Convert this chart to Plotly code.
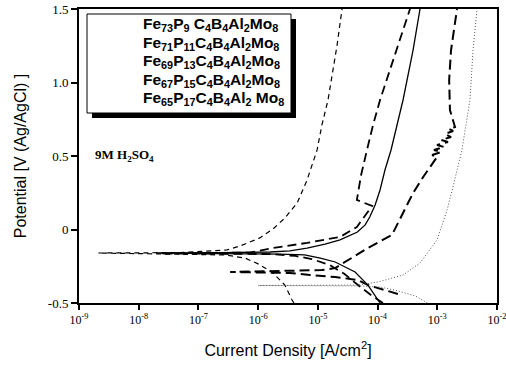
import plotly.graph_objects as go

# ---------------- data ----------------
alloy_names = [
    "Fe<sub>73</sub>P<sub>9</sub> C<sub>4</sub>B<sub>4</sub>Al<sub>2</sub>Mo<sub>8</sub>",
    "Fe<sub>71</sub>P<sub>11</sub>C<sub>4</sub>B<sub>4</sub>Al<sub>2</sub>Mo<sub>8</sub>",
    "Fe<sub>69</sub>P<sub>13</sub>C<sub>4</sub>B<sub>4</sub>Al<sub>2</sub>Mo<sub>8</sub>",
    "Fe<sub>67</sub>P<sub>15</sub>C<sub>4</sub>B<sub>4</sub>Al<sub>2</sub>Mo<sub>8</sub>",
    "Fe<sub>65</sub>P<sub>17</sub>C<sub>4</sub>B<sub>4</sub>Al<sub>2</sub> Mo<sub>8</sub>",
]

# Fe73P9 (solid)
i_fe73 = [1.10e-4, 1.02e-4, 6.9e-5, 4.2e-5, 1.95e-5, 1.10e-5, 6.0e-6, 2.3e-6, 2.3e-7, 2.0e-8,
          2.3e-7, 1.6e-6, 3.4e-6, 6.6e-6, 1.32e-5, 2.35e-5, 4.6e-5, 6.2e-5, 7.4e-5, 9.1e-5,
          1.10e-4, 1.33e-4, 1.68e-4, 2.14e-4, 2.67e-4, 3.93e-4, 5.14e-4]
e_fe73 = [-0.50, -0.48, -0.378, -0.289, -0.221, -0.194, -0.173, -0.167, -0.163, -0.160,
          -0.157, -0.153, -0.146, -0.126, -0.099, -0.071, -0.017, 0.031, 0.085, 0.167,
          0.269, 0.405, 0.541, 0.711, 0.881, 1.221, 1.50]

# Fe71P11 (long dash, heavy)
i_fe71 = [1.23e-4, 8.1e-5, 4.7e-5, 2.8e-5, 1.58e-5, 7.9e-6, 4.2e-6, 1.6e-6, 2.3e-8,
          7.2e-7, 1.78e-6, 6.6e-6, 2.35e-5, 4.5e-5, 6.65e-5, 8.1e-5,
          4.5e-5, 5.3e-5, 6.65e-5, 8.4e-5, 1.10e-4, 1.62e-4, 2.38e-4, 3.49e-4]
e_fe71 = [-0.50, -0.452, -0.378, -0.303, -0.241, -0.201, -0.180, -0.167, -0.163,
          -0.157, -0.126, -0.091, -0.051, 0.017, 0.112, 0.160,
          0.201, 0.371, 0.541, 0.711, 0.881, 1.085, 1.289, 1.50]

# Fe69P13 (long dash, noisy passive region)
i_fe69 = [2.19e-4, 1.50e-4, 6.9e-5, 4.7e-5, 1.95e-5, 7.4e-6, 3.4e-6, 3.4e-7, 3.4e-6,
          1.17e-5, 1.95e-5, 2.85e-5, 6.9e-5, 1.74e-4, 2.67e-4, 3.93e-4, 5.8e-4, 9.9e-4,
          8.2e-4, 1.16e-3, 8.8e-4, 1.30e-3, 9.9e-4, 1.51e-3, 1.16e-3, 1.70e-3, 1.35e-3,
          1.84e-3, 1.57e-3, 1.98e-3, 1.63e-3, 1.58e-3, 1.70e-3, 1.91e-3, 2.14e-3]
e_fe69 = [-0.439, -0.418, -0.378, -0.344, -0.323, -0.310, -0.296, -0.289, -0.282,
          -0.276, -0.262, -0.221, -0.126, -0.037, 0.112, 0.248, 0.357, 0.493,
          0.507, 0.527, 0.541, 0.561, 0.575, 0.595, 0.609, 0.629, 0.650,
          0.670, 0.684, 0.697, 0.813, 1.017, 1.221, 1.357, 1.50]

# Fe67P15 (short dash)
i_fe67 = [3.98e-6, 3.7e-6, 2.8e-6, 1.7e-6, 1.0e-6, 6.0e-7, 2.8e-7, 4.9e-8, 2.1e-9,
          4.9e-8, 8.1e-8, 3.0e-7, 5.0e-7, 1.07e-6, 1.78e-6, 2.8e-6, 4.5e-6, 6.6e-6,
          9.7e-6, 1.17e-5, 1.48e-5, 1.78e-5, 2.1e-5, 2.54e-5]
e_fe67 = [-0.50, -0.48, -0.378, -0.289, -0.234, -0.194, -0.173, -0.167, -0.160,
          -0.157, -0.153, -0.139, -0.112, -0.057, 0.004, 0.078, 0.180, 0.337,
          0.541, 0.711, 0.881, 1.085, 1.255, 1.50]

# Fe65P17 (dotted)
i_fe65 = [6.8e-4, 4.3e-4, 2.19e-4, 1.10e-4, 4.7e-5, 1.0e-6, 4.7e-5, 1.02e-4, 2.67e-4,
          5.14e-4, 9.9e-4, 1.46e-3, 1.78e-3, 2.14e-3, 2.59e-3, 3.02e-3, 3.53e-3,
          3.97e-3, 4.63e-3]
e_fe65 = [-0.50, -0.452, -0.418, -0.391, -0.384, -0.381, -0.378, -0.357, -0.310,
          -0.228, -0.071, 0.133, 0.269, 0.405, 0.541, 0.711, 0.881, 1.221, 1.50]

x_tickvals = [1e-9, 1e-8, 1e-7, 1e-6, 1e-5, 1e-4, 1e-3, 1e-2]
x_ticktext = ["10<sup>-9</sup>", "10<sup>-8</sup>", "10<sup>-7</sup>", "10<sup>-6</sup>",
              "10<sup>-5</sup>", "10<sup>-4</sup>", "10<sup>-3</sup>", "10<sup>-2</sup>"]
y_tickvals = [-0.5, 0, 0.5, 1.0, 1.5]
y_ticktext = ["-0.5", "0", "0.5", "1.0", "1.5"]

solution_label = "9M H<sub>2</sub>SO<sub>4</sub>"

# ---------------- figure ----------------
W, H = 506, 374
# plot area in screen pixels: x 79..497, y 9..303
L, R, T, B = 79, W - 497, 9, H - 303
PW, PH = W - L - R, H - T - B


def px(xs):
    return (xs - L) / PW


def py(ys):
    return (T + PH - ys) / PH


series = [
    (i_fe73, e_fe73, dict(color="black", width=1.3, dash="solid")),
    (i_fe71, e_fe71, dict(color="black", width=1.8, dash="9px,5px")),
    (i_fe69, e_fe69, dict(color="black", width=2.0, dash="10px,5px")),
    (i_fe67, e_fe67, dict(color="black", width=1.2, dash="5px,4px")),
    (i_fe65, e_fe65, dict(color="#555555", width=1.0, dash="1px,2px")),
]

fig = go.Figure()
for name, (xs, ys, ln) in zip(alloy_names, series):
    fig.add_trace(go.Scatter(x=xs, y=ys, mode="lines", name=name, line=ln,
                             showlegend=False, xaxis="x", yaxis="y"))

serif = "Liberation Serif, Times New Roman, serif"
sans = "Liberation Sans, Arial, sans-serif"

fig.update_layout(
    width=W, height=H,
    margin=dict(l=L, r=R, t=T, b=B),
    paper_bgcolor="white", plot_bgcolor="white",
    hovermode=False,
    xaxis=dict(type="log", range=[-9, -2], tickvals=x_tickvals, ticktext=x_ticktext,
               ticks="outside", ticklen=5, tickwidth=1.5, tickcolor="black",
               ticklabeloverflow="allow",
               showline=True, linewidth=2, linecolor="black", mirror=True,
               showgrid=False, zeroline=False, automargin=False,
               tickfont=dict(family=serif, size=12, color="black"),
               title=dict(text="Current Density [A/cm<sup>2</sup>]", standoff=18,
                          font=dict(family=sans, size=16, color="black"))),
    yaxis=dict(range=[-0.5, 1.5], tickvals=y_tickvals, ticktext=y_ticktext,
               ticks="outside", ticklen=6, tickwidth=1.5, tickcolor="black",
               ticklabeloverflow="allow",
               showline=True, linewidth=2, linecolor="black", mirror=True,
               showgrid=False, zeroline=False, automargin=False,
               tickfont=dict(family=serif, size=13, color="black"),
               title=dict(text="Potential [V (Ag/AgCl) ]", standoff=17,
                          font=dict(family=sans, size=16, color="black"))),
    xaxis2=dict(type="log", range=[-9, -2], overlaying="x", anchor="y", side="bottom",
                tickvals=x_tickvals, ticks="inside", ticklen=5, tickwidth=1.5,
                tickcolor="black", showticklabels=False, showgrid=False,
                zeroline=False, showline=False, automargin=False),
    yaxis2=dict(range=[-0.5, 1.5], overlaying="y", anchor="x", side="left",
                tickvals=y_tickvals, ticks="inside", ticklen=5, tickwidth=1.5,
                tickcolor="black", showticklabels=False, showgrid=False,
                zeroline=False, showline=False, automargin=False),
)

# legend box with drop shadow (screen pixel positions)
box_l, box_r, box_t, box_b = 87, 291, 14, 113
shadow = 5
fig.add_shape(type="rect", xref="paper", yref="paper",
              x0=px(box_l + shadow), x1=px(box_r + shadow),
              y0=py(box_b + shadow), y1=py(box_t + shadow),
              fillcolor="black", line=dict(width=0), layer="above")
fig.add_shape(type="rect", xref="paper", yref="paper",
              x0=px(box_l), x1=px(box_r), y0=py(box_b), y1=py(box_t),
              fillcolor="white", line=dict(color="black", width=1), layer="above")

row_y = [25, 43, 62, 80, 98]
for name, yy in zip(alloy_names, row_y):
    fig.add_annotation(xref="paper", yref="paper", x=px(141), y=py(yy),
                       xanchor="left", yanchor="middle", showarrow=False,
                       text="<b>" + name + "</b>",
                       font=dict(family=sans, size=15.5, color="black"))

fig.add_annotation(xref="paper", yref="paper", x=px(93), y=py(155),
                   xanchor="left", yanchor="middle", showarrow=False,
                   text="<b>" + solution_label + "</b>",
                   font=dict(family=serif, size=13, color="black"))

# the page body has a default 8px margin; remove it so the figure sits at (0, 0)
fig.write_html("out.html", config={"displayModeBar": False},
               post_script="document.body.style.margin='0';")
